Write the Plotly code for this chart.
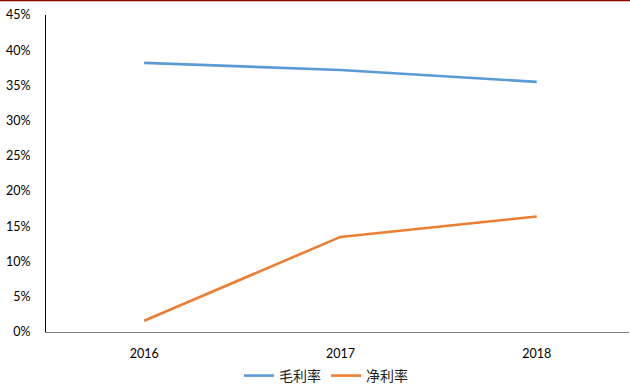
import plotly.graph_objects as go

years = ["2016", "2017", "2018"]
gross_margin = [0.382, 0.372, 0.355]
net_margin = [0.016, 0.135, 0.164]
y_ticks = [0, 0.05, 0.10, 0.15, 0.20, 0.25, 0.30, 0.35, 0.40, 0.45]
y_tick_labels = ["0%", "5%", "10%", "15%", "20%", "25%", "30%", "35%", "40%", "45%"]

fig = go.Figure()
fig.add_trace(go.Scatter(x=years, y=gross_margin, mode="lines", name="毛利率",
                         line=dict(color="#5B9BD5", width=2.6)))
fig.add_trace(go.Scatter(x=years, y=net_margin, mode="lines", name="净利率",
                         line=dict(color="#ED7D31", width=2.6)))

W, H = 630, 387
ml, mr, mt, mb = 46, 1, 15, 55
plot_w = W - ml - mr
plot_h = H - mt - mb

fig.update_layout(
    width=W, height=H,
    margin=dict(l=ml, r=mr, t=mt, b=mb, autoexpand=False),
    paper_bgcolor="white", plot_bgcolor="white",
    font=dict(family="Lato, 'Noto Sans CJK SC', sans-serif", size=12.5, color="#000000"),
    showlegend=True,
    legend=dict(orientation="h", x=(326 - ml) / plot_w, xanchor="center",
                y=-(376 - (H - mb)) / plot_h, yanchor="middle",
                font=dict(family="'Noto Sans CJK SC', sans-serif", size=14, color="#222"),
                itemwidth=30, tracegroupgap=0),
    xaxis=dict(type="category", range=[-0.5, 2.47], showgrid=False,
               showline=True, linecolor="#7f7f7f", linewidth=1.2,
               ticks="", ticklabelstandoff=10),
    yaxis=dict(range=[0, 0.45], tickvals=y_ticks, ticktext=y_tick_labels,
               showgrid=False, zeroline=False, showline=True, linecolor="#000000",
               linewidth=1, ticks="", ticklabelstandoff=12),
    shapes=[dict(type="line", xref="paper", yref="paper",
                 x0=-ml / plot_w, x1=1 + mr / plot_w,
                 y0=1 + (mt - 0.5) / plot_h, y1=1 + (mt - 0.5) / plot_h,
                 line=dict(color="#8B0000", width=1.5))],
)

fig.write_html("out.html")
